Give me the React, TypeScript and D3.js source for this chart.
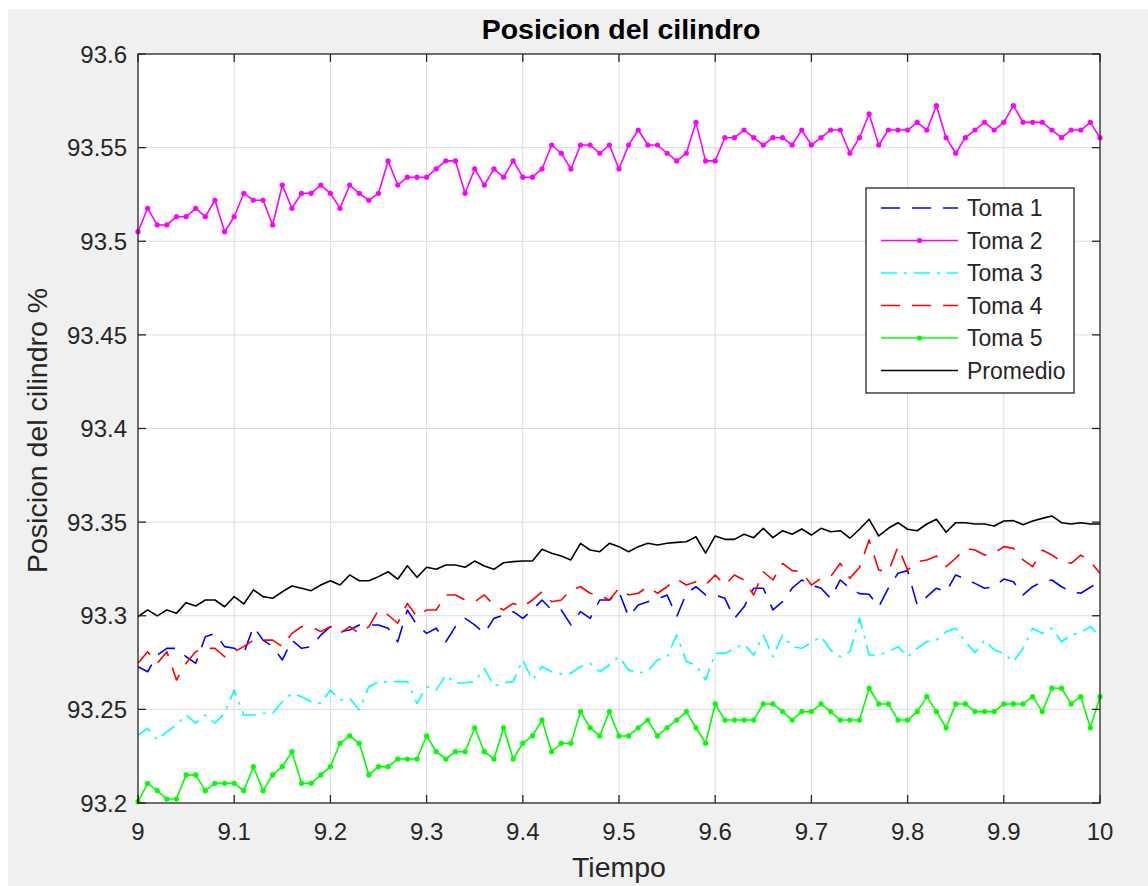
import React from 'react';
import * as d3 from 'd3';

// Tiempo: 9 a 10, paso 0.01
const tiempo = d3.range(0, 101).map(i => +(9 + i * 0.01).toFixed(2));

const toma1 = [93.2728,93.2701,93.279,93.2826,93.2826,93.2781,93.2746,93.2888,93.2906,93.2835,
  93.2826,93.2799,93.2942,93.287,93.2835,93.2764,93.287,93.2826,93.2835,93.2897,
  93.2942,93.2915,93.2924,93.2951,93.2951,93.2951,93.2933,93.2861,93.3031,93.2951,
  93.2906,93.2933,93.2861,93.2942,93.2986,93.2951,93.2906,93.2986,93.3004,93.3022,
  93.2986,93.3031,93.3084,93.3031,93.3031,93.2951,93.3022,93.2986,93.3084,93.3084,
  93.3128,93.2995,93.3057,93.3075,93.3088,93.3111,93.2995,93.312,93.3155,93.3111,
  93.3111,93.3093,93.2986,93.3048,93.3147,93.3147,93.3031,93.3075,93.3147,93.3191,
  93.3164,93.3147,93.3093,93.3191,93.3147,93.3118,93.3115,93.3048,93.3147,93.3227,
  93.3241,93.3057,93.3102,93.3147,93.3128,93.3218,93.3196,93.3173,93.3147,93.3155,
  93.3196,93.3182,93.3111,93.3155,93.3182,93.3191,93.3155,93.3128,93.312,93.3152,
  93.3182];

const toma2 = [93.5051,93.5176,93.5087,93.5087,93.5131,93.5131,93.5176,93.5131,93.5219,93.5051,
  93.5131,93.5256,93.5219,93.5219,93.5087,93.530,93.5176,93.5256,93.5256,93.530,
  93.5256,93.5176,93.530,93.5256,93.5219,93.5256,93.5429,93.530,93.5342,93.5342,
  93.5342,93.5386,93.5429,93.5429,93.5256,93.5386,93.530,93.5386,93.5342,93.5429,
  93.5342,93.5342,93.5386,93.5514,93.547,93.5386,93.5514,93.5514,93.547,93.5514,
  93.5386,93.5514,93.5594,93.5514,93.5514,93.547,93.5429,93.547,93.5635,93.5429,
  93.5429,93.5553,93.5553,93.5594,93.5553,93.5514,93.5553,93.5553,93.5514,93.5594,
  93.5514,93.5553,93.5594,93.5594,93.547,93.5553,93.568,93.5514,93.5594,93.5594,
  93.5594,93.5635,93.5594,93.5724,93.5553,93.547,93.5553,93.5594,93.5635,93.5594,
  93.5635,93.5724,93.5635,93.5635,93.5635,93.5594,93.5553,93.5594,93.5594,93.5635,
  93.5553];

const toma3 = [93.2363,93.2399,93.2336,93.2381,93.2417,93.247,93.2426,93.247,93.2426,93.2479,
  93.2603,93.247,93.247,93.2479,93.2479,93.2541,93.2586,93.2568,93.2541,93.2532,
  93.2603,93.255,93.2559,93.2497,93.2621,93.2646,93.2648,93.2648,93.2648,93.2532,
  93.2621,93.2603,93.2684,93.2639,93.2642,93.2648,93.2719,93.2625,93.2642,93.2648,
  93.2764,93.2657,93.2728,93.2701,93.2689,93.2693,93.2728,93.2746,93.2701,93.2737,
  93.2781,93.271,93.2693,93.2707,93.2764,93.2781,93.2897,93.2755,93.2737,93.2657,
  93.2799,93.2799,93.2826,93.2849,93.279,93.2897,93.2781,93.2897,93.2835,93.2826,
  93.2856,93.2888,93.2817,93.2781,93.2808,93.2988,93.279,93.279,93.2808,93.2835,
  93.2781,93.2826,93.2861,93.287,93.2915,93.2933,93.2861,93.2803,93.287,93.2817,
  93.2799,93.2755,93.2826,93.2933,93.2906,93.2933,93.2861,93.2897,93.291,93.2942,
  93.2888];

const toma4 = [93.2746,93.2808,93.2746,93.2808,93.2657,93.2746,93.2808,93.2826,93.2826,93.2781,
  93.2808,93.2835,93.287,93.287,93.287,93.2835,93.2906,93.2942,93.2942,93.2915,
  93.2942,93.2906,93.2942,93.2906,93.2942,93.3031,93.3004,93.296,93.3066,93.2995,
  93.3031,93.3031,93.3111,93.3111,93.3084,93.3075,93.3111,93.3057,93.3031,93.3066,
  93.3048,93.3084,93.3128,93.3075,93.3084,93.3138,93.3155,93.312,93.3111,93.3084,
  93.3147,93.3111,93.312,93.3155,93.312,93.3155,93.3196,93.3164,93.3182,93.3164,
  93.3218,93.3164,93.3218,93.3191,93.3111,93.3235,93.3191,93.328,93.3241,93.3235,
  93.3164,93.32,93.3209,93.328,93.32,93.3258,93.3405,93.3244,93.3235,93.3369,
  93.3244,93.3289,93.3298,93.3319,93.3262,93.3307,93.336,93.3351,93.3324,93.3334,
  93.3369,93.336,93.3298,93.3262,93.3351,93.3324,93.3289,93.328,93.3324,93.3289,
  93.3227];

const toma5 = [93.2007,93.2105,93.2066,93.2021,93.2021,93.215,93.215,93.2066,93.2105,93.2105,
  93.2105,93.2066,93.2194,93.2066,93.215,93.2194,93.2274,93.2105,93.2105,93.215,
  93.2194,93.2319,93.2358,93.2319,93.215,93.2194,93.2194,93.2235,93.2235,93.2235,
  93.2358,93.2274,93.2235,93.2274,93.2274,93.2402,93.2274,93.2235,93.2402,93.2235,
  93.2319,93.2358,93.2443,93.2274,93.2319,93.2319,93.2488,93.2402,93.2358,93.2488,
  93.2358,93.2358,93.2402,93.2443,93.2358,93.2402,93.2443,93.2488,93.2402,93.2319,
  93.2529,93.2443,93.2443,93.2443,93.2443,93.2529,93.2529,93.2488,93.2443,93.2488,
  93.2488,93.2529,93.2488,93.2443,93.2443,93.2443,93.2613,93.2529,93.2529,93.2443,
  93.2443,93.2488,93.2568,93.2488,93.2402,93.2529,93.2529,93.2488,93.2488,93.2488,
  93.2529,93.2529,93.2529,93.2568,93.2488,93.2613,93.2613,93.2529,93.2568,93.2402,
  93.2568];

const promedio = [93.2995,93.3031,93.2999,93.3031,93.3013,93.307,93.3052,93.3084,93.3084,93.3048,
  93.3102,93.3063,93.3138,93.3102,93.3093,93.3128,93.3159,93.3147,93.3134,93.3164,
  93.3187,93.3164,93.3218,93.3187,93.3187,93.3209,93.3235,93.3195,93.3267,93.3205,
  93.3259,93.3248,93.3271,93.3271,93.3259,93.3292,93.3266,93.3248,93.3283,93.3289,
  93.3292,93.3292,93.3355,93.3334,93.3319,93.3298,93.3387,93.3351,93.3342,93.3387,
  93.3369,93.3342,93.3369,93.3387,93.3378,93.3387,93.3392,93.3395,93.3422,93.3334,
  93.3426,93.3408,93.3408,93.3435,93.3417,93.3467,93.3417,93.3454,93.3435,93.3463,
  93.3431,93.3467,93.3449,93.3454,93.3414,93.3462,93.3515,93.3426,93.3467,93.3497,
  93.3462,93.3454,93.349,93.3515,93.3446,93.3497,93.3497,93.349,93.349,93.3479,
  93.3506,93.3508,93.3486,93.3506,93.352,93.3533,93.3497,93.349,93.3497,93.349,
  93.349];

const xTicks = [9, 9.1, 9.2, 9.3, 9.4, 9.5, 9.6, 9.7, 9.8, 9.9, 10];
const yTicks = [93.2, 93.25, 93.3, 93.35, 93.4, 93.45, 93.5, 93.55, 93.6];

const series = [
  { name: 'Toma 1', values: toma1, color: '#0000ff', dash: '19 12', marker: false },
  { name: 'Toma 2', values: toma2, color: '#ff00ff', dash: null, marker: true },
  { name: 'Toma 3', values: toma3, color: '#00ffff', dash: '16 7 3 7', marker: false },
  { name: 'Toma 4', values: toma4, color: '#ff0000', dash: '19 12', marker: false },
  { name: 'Toma 5', values: toma5, color: '#00ff00', dash: null, marker: true },
  { name: 'Promedio', values: promedio, color: '#000000', dash: null, marker: false },
];

const W = 1148, H = 886;
const left = 138, right = 1100, top = 54, bottom = 803;
const axisColor = '#262626';
const font = "'Liberation Sans', Arial, Helvetica, sans-serif";

export default function App() {
  const x = d3.scaleLinear().domain([9, 10]).range([left, right]);
  const y = d3.scaleLinear().domain([93.2, 93.6]).range([bottom, top]);
  const line = d3.line<number>().x((_, i) => x(tiempo[i])).y(d => y(d));
  const tickLen = 8;

  const legX = 866, legY = 188, legW = 208, legH = 205;
  const rowH = 32.5;

  return (
    <div style={{ position: 'absolute', left: 0, top: 0, width: W, height: H, overflow: 'hidden' }}>
      <svg width={W} height={H} style={{ display: 'block' }} fontFamily={font}>
        <rect x={0} y={0} width={W} height={H} fill="#ffffff" />
        <rect x={8} y={9} width={W - 8} height={H - 9} fill="#f0f0f0" />
        <rect x={left} y={top} width={right - left} height={bottom - top} fill="#ffffff" />

        {/* grid */}
        <g stroke="#dcdcdc" strokeWidth={1}>
          {xTicks.slice(1, -1).map(t => (
            <line key={'gx' + t} x1={x(t)} x2={x(t)} y1={top} y2={bottom} />
          ))}
          {yTicks.slice(1, -1).map(t => (
            <line key={'gy' + t} x1={left} x2={right} y1={y(t)} y2={y(t)} />
          ))}
        </g>

        {/* series */}
        <defs>
          <clipPath id="plotClip">
            <rect x={left - 3} y={top - 3} width={right - left + 6} height={bottom - top + 6} />
          </clipPath>
        </defs>
        <g clipPath="url(#plotClip)">
          {series.map(s => (
            <g key={s.name}>
              <path d={line(s.values) || ''} fill="none" stroke={s.color} strokeWidth={1.6}
                strokeDasharray={s.dash || undefined} strokeLinejoin="round" />
              {s.marker && s.values.map((v, i) => (
                <circle key={i} cx={x(tiempo[i])} cy={y(v)} r={2.6} fill={s.color} />
              ))}
            </g>
          ))}
        </g>

        {/* axes box and ticks */}
        <rect x={left} y={top} width={right - left} height={bottom - top} fill="none"
          stroke={axisColor} strokeWidth={1.3} />
        <g stroke={axisColor} strokeWidth={1.3}>
          {xTicks.map(t => (
            <g key={'tx' + t}>
              <line x1={x(t)} x2={x(t)} y1={bottom} y2={bottom - tickLen} />
              <line x1={x(t)} x2={x(t)} y1={top} y2={top + tickLen} />
            </g>
          ))}
          {yTicks.map(t => (
            <g key={'ty' + t}>
              <line x1={left} x2={left + tickLen} y1={y(t)} y2={y(t)} />
              <line x1={right} x2={right - tickLen} y1={y(t)} y2={y(t)} />
            </g>
          ))}
        </g>
        <g fill={axisColor} fontSize={24}>
          {xTicks.map(t => (
            <text key={'lx' + t} x={x(t)} y={840} textAnchor="middle">{d3.format('')(t)}</text>
          ))}
          {yTicks.map(t => (
            <text key={'ly' + t} x={left - 11} y={y(t)} dy="0.36em" textAnchor="end">{d3.format('')(t)}</text>
          ))}
        </g>

        {/* labels */}
        <text x={(left + right) / 2 + 2} y={39} textAnchor="middle" fontSize={28.5} fontWeight="bold" fill="#000">
          Posicion del cilindro
        </text>
        <text x={(left + right) / 2} y={877} textAnchor="middle" fontSize={28.5} fill={axisColor}>Tiempo</text>
        <text transform={`translate(47, ${(top + bottom) / 2 + 2}) rotate(-90)`} textAnchor="middle" fontSize={28.5}
          fill={axisColor}>Posicion del cilindro %</text>

        {/* legend */}
        <rect x={legX} y={legY} width={legW} height={legH} fill="#ffffff" stroke={axisColor} strokeWidth={1.3} />
        {series.map((s, i) => {
          const cy = legY + 20 + i * rowH;
          return (
            <g key={'leg' + s.name}>
              <line x1={881} x2={958} y1={cy} y2={cy} stroke={s.color} strokeWidth={1.6}
                strokeDasharray={s.dash || undefined} />
              {s.marker && <circle cx={919.5} cy={cy} r={2.6} fill={s.color} />}
              <text x={967} y={cy} dy="0.36em" fontSize={23} fill={axisColor}>{s.name}</text>
            </g>
          );
        })}
      </svg>
    </div>
  );
}
